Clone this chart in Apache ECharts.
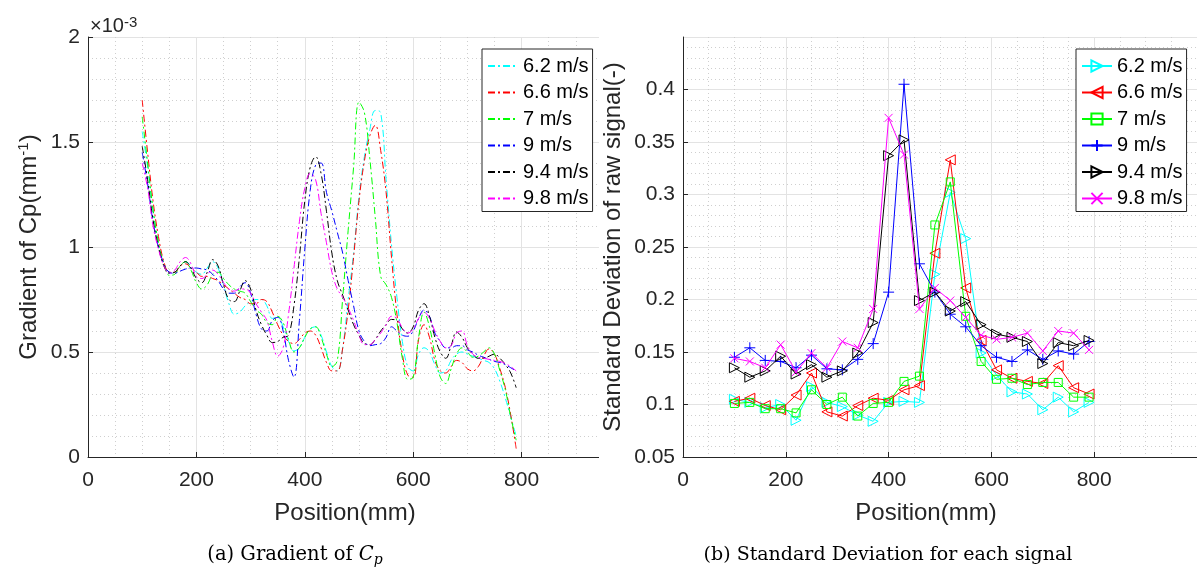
<!DOCTYPE html>
<html>
<head>
<meta charset="UTF-8">
<title>Gradient of Cp / Standard deviation</title>
<script src="https://cdn.jsdelivr.net/npm/echarts@6/dist/echarts.min.js"></script>
<style>
  html, body { margin: 0; padding: 0; background: #fff; }
  #chart { width: 1197px; height: 571px; }
</style>
</head>
<body>
<div id="chart"></div>
<script>
// legend names and line colours (shared by both panels)
var speeds = ['6.2 m/s', '6.6 m/s', '7 m/s', '9 m/s', '9.4 m/s', '9.8 m/s'];
var colors = ['#00ffff', '#ff0000', '#00ff00', '#0000ff', '#000000', '#ff00ff'];

// (a) gradient of Cp, values in 1e-3 mm^-1
var posA = [100, 110, 120, 130, 140, 150, 160, 170, 180, 190,
            200, 210, 220, 230, 240, 250, 260, 270, 280, 290,
            300, 310, 320, 330, 340, 350, 360, 370, 380, 390,
            400, 410, 420, 430, 440, 450, 460, 470, 480, 490,
            500, 510, 520, 530, 540, 550, 560, 570, 580, 590,
            600, 610, 620, 630, 640, 650, 660, 670, 680, 690,
            700, 710, 720, 730, 740, 750, 760, 770, 780, 790];

var grad62 = [1.55, 1.38, 1.17, 1.02, 0.92, 0.875, 0.88, 0.91, 0.93, 0.91,
              0.88, 0.87, 0.90, 0.93, 0.90, 0.82, 0.73, 0.68, 0.69, 0.72,
              0.74, 0.75, 0.75, 0.72, 0.66, 0.665, 0.62, 0.55, 0.505, 0.52,
              0.57, 0.61, 0.62, 0.58, 0.50, 0.43, 0.41, 0.52, 0.75, 0.97,
              1.24, 1.43, 1.56, 1.65, 1.64, 1.32, 1.01, 0.76, 0.55, 0.43,
              0.41, 0.49, 0.52, 0.50, 0.44, 0.40, 0.41, 0.46, 0.49, 0.50,
              0.49, 0.48, 0.47, 0.46, 0.45, 0.42, 0.36, 0.28, 0.19, 0.10];
var grad66 = [1.70, 1.45, 1.22, 1.05, 0.93, 0.88, 0.88, 0.91, 0.92, 0.90,
              0.88, 0.86, 0.86, 0.85, 0.84, 0.82, 0.80, 0.78, 0.76, 0.75,
              0.73, 0.73, 0.75, 0.74, 0.69, 0.63, 0.58, 0.55, 0.54, 0.56,
              0.59, 0.60, 0.58, 0.52, 0.45, 0.41, 0.41, 0.52, 0.70, 0.95,
              1.22, 1.41, 1.53, 1.58, 1.46, 1.26, 0.95, 0.68, 0.49, 0.39,
              0.38, 0.56, 0.63, 0.57, 0.46, 0.41, 0.40, 0.43, 0.46, 0.45,
              0.42, 0.41, 0.43, 0.48, 0.515, 0.49, 0.42, 0.33, 0.20, 0.04];
var grad7 = [1.62, 1.40, 1.18, 1.02, 0.92, 0.865, 0.87, 0.91, 0.93, 0.89,
             0.83, 0.80, 0.82, 0.87, 0.88, 0.85, 0.82, 0.80, 0.79, 0.78,
             0.74, 0.70, 0.68, 0.64, 0.63, 0.67, 0.64, 0.56, 0.50, 0.52,
             0.57, 0.61, 0.62, 0.57, 0.49, 0.43, 0.46, 0.76, 1.08, 1.38,
             1.69, 1.64, 1.42, 1.14, 0.86, 0.82, 0.76, 0.64, 0.47, 0.37,
             0.38, 0.57, 0.69, 0.62, 0.49, 0.38, 0.35, 0.42, 0.49, 0.52,
             0.50, 0.475, 0.48, 0.50, 0.52, 0.49, 0.41, 0.32, 0.19, 0.08];
var grad9 = [1.45, 1.30, 1.12, 1.00, 0.92, 0.88, 0.875, 0.885, 0.895, 0.90,
             0.90, 0.895, 0.89, 0.87, 0.84, 0.80, 0.78, 0.78, 0.81, 0.83,
             0.78, 0.68, 0.61, 0.60, 0.65, 0.665, 0.60, 0.46, 0.38, 0.65,
             0.99, 1.27, 1.39, 1.40, 1.26, 1.17, 1.07, 0.97, 0.84, 0.72,
             0.60, 0.55, 0.53, 0.535, 0.54, 0.57, 0.62, 0.60, 0.58, 0.575,
             0.60, 0.66, 0.70, 0.67, 0.59, 0.55, 0.52, 0.52, 0.53, 0.53,
             0.51, 0.50, 0.485, 0.475, 0.465, 0.455, 0.45, 0.44, 0.425, 0.41];
var grad94 = [1.48, 1.32, 1.13, 1.00, 0.91, 0.875, 0.88, 0.91, 0.93, 0.90,
              0.85, 0.83, 0.88, 0.94, 0.91, 0.82, 0.75, 0.74, 0.79, 0.84,
              0.80, 0.70, 0.63, 0.58, 0.545, 0.55, 0.57, 0.58, 0.72, 0.95,
              1.22, 1.38, 1.43, 1.35, 1.17, 0.97, 0.84, 0.77, 0.70, 0.63,
              0.58, 0.54, 0.535, 0.56, 0.60, 0.63, 0.655, 0.65, 0.61, 0.59,
              0.62, 0.70, 0.73, 0.67, 0.57, 0.50, 0.47, 0.53, 0.595, 0.57,
              0.52, 0.49, 0.47, 0.47, 0.48, 0.49, 0.47, 0.44, 0.40, 0.33];
var grad98 = [1.40, 1.28, 1.10, 0.99, 0.91, 0.875, 0.89, 0.93, 0.95, 0.92,
              0.86, 0.85, 0.87, 0.89, 0.87, 0.83, 0.80, 0.79, 0.80, 0.80,
              0.78, 0.73, 0.69, 0.65, 0.55, 0.48, 0.52, 0.68, 0.90, 1.12,
              1.28, 1.35, 1.32, 1.16, 1.02, 0.88, 0.80, 0.76, 0.71, 0.65,
              0.58, 0.535, 0.535, 0.56, 0.59, 0.63, 0.67, 0.66, 0.615, 0.59,
              0.61, 0.66, 0.69, 0.66, 0.60, 0.55, 0.52, 0.53, 0.59, 0.60,
              0.53, 0.49, 0.475, 0.47, 0.465, 0.46, 0.455, 0.445, 0.43, 0.41];

// (b) standard deviation of raw signal
var posB = [100, 130, 160, 190, 220, 250, 280, 310, 340, 370, 400, 430,
            460, 490, 520, 550, 580, 610, 640, 670, 700, 730, 760, 790];
var sd62 = [0.105, 0.102, 0.097, 0.100, 0.085, 0.117, 0.102, 0.098, 0.090, 0.084, 0.102, 0.103,
            0.102, 0.224, 0.302, 0.258, 0.149, 0.128, 0.112, 0.110, 0.095, 0.107, 0.093, 0.102];
var sd66 = [0.103, 0.106, 0.099, 0.095, 0.109, 0.130, 0.093, 0.089, 0.099, 0.106, 0.104, 0.114,
            0.118, 0.244, 0.333, 0.211, 0.161, 0.133, 0.125, 0.122, 0.120, 0.137, 0.116, 0.110];
var sd7 = [0.101, 0.102, 0.096, 0.096, 0.092, 0.114, 0.100, 0.107, 0.089, 0.101, 0.102, 0.122,
           0.127, 0.271, 0.312, 0.184, 0.141, 0.124, 0.125, 0.119, 0.121, 0.121, 0.107, 0.107];
var sd9 = [0.145, 0.154, 0.142, 0.141, 0.135, 0.147, 0.134, 0.133, 0.143, 0.158, 0.207, 0.405,
           0.234, 0.207, 0.186, 0.174, 0.156, 0.145, 0.141, 0.152, 0.143, 0.151, 0.148, 0.160];
var sd94 = [0.135, 0.126, 0.132, 0.146, 0.129, 0.138, 0.126, 0.132, 0.149, 0.178, 0.337, 0.352,
            0.199, 0.207, 0.189, 0.198, 0.176, 0.167, 0.164, 0.160, 0.139, 0.159, 0.156, 0.161];
var sd98 = [0.144, 0.141, 0.135, 0.157, 0.131, 0.149, 0.135, 0.160, 0.154, 0.191, 0.373, 0.338,
            0.191, 0.211, 0.199, 0.183, 0.166, 0.162, 0.164, 0.168, 0.151, 0.170, 0.168, 0.152];

// markers: right triangle, left triangle, square, plus, right triangle, cross
var markers = [
    'path://M0,0L10,5L0,10Z',
    'path://M10,0L0,5L10,10Z',
    'path://M0,0L10,0L10,10L0,10Z',
    'path://M5,0L5,10M0,5L10,5',
    'path://M0,0L10,5L0,10Z',
    'path://M0,0L10,10M10,0L0,10'
];
var markerSizes = [10, 10, 8, 11, 10, 8];

var FONT = '"Liberation Sans", Arial, sans-serif';
var SERIF = '"DejaVu Serif", serif';
var INK = '#262626';

var chart = echarts.init(document.getElementById('chart'));

function xAxisFor(grid) {
    return {
        gridIndex: grid, type: 'value', min: 0, max: 1000, interval: 200,
        name: 'Position(mm)', nameLocation: 'middle', nameGap: 44,
        nameTextStyle: { fontFamily: FONT, fontSize: 24, color: INK, padding: [0, 28, 0, 0] },
        axisLine: { show: true, onZero: false, lineStyle: { color: INK, width: 1 } },
        axisTick: { show: true, inside: true, length: 5, lineStyle: { color: INK } },
        axisLabel: { fontFamily: FONT, fontSize: 21, color: INK, margin: 13, showMaxLabel: false },
        splitLine: { show: true, lineStyle: { color: '#e3e3e3', width: 1 } },
        minorTick: { show: false, splitNumber: 4 },
        minorSplitLine: { show: true, lineStyle: { color: '#cfcfcf', width: 1, type: [1, 3] } }
    };
}

function yAxisFor(grid, min, max, step, minorN, showMax) {
    return {
        gridIndex: grid, type: 'value', min: min, max: max, interval: step,
        axisLine: { show: true, onZero: false, lineStyle: { color: INK, width: 1 } },
        axisTick: { show: true, inside: true, length: 5, lineStyle: { color: INK } },
        axisLabel: { fontFamily: FONT, fontSize: 21, color: INK, margin: 8, showMaxLabel: showMax },
        splitLine: { show: true, lineStyle: { color: '#e3e3e3', width: 1 } },
        minorTick: { show: false, splitNumber: minorN },
        minorSplitLine: { show: true, lineStyle: { color: '#cfcfcf', width: 1, type: [1, 3] } }
    };
}

var yLeft = yAxisFor(0, 0, 2, 0.5, 5, true);
yLeft.name = 'Gradient of Cp(mm{sup|-1})';
yLeft.nameLocation = 'middle';
yLeft.nameGap = 46;
yLeft.nameRotate = 90;
yLeft.nameTextStyle = {
    fontFamily: FONT, fontSize: 24, color: INK, lineHeight: 26,
    rich: { sup: { fontFamily: FONT, fontSize: 15, color: INK, lineHeight: 12, verticalAlign: 'top' } }
};
var yRight = yAxisFor(1, 0.05, 0.45, 0.05, 5, false);

var series = [];
[grad62, grad66, grad7, grad9, grad94, grad98].forEach(function (vals, i) {
    series.push({
        name: speeds[i], type: 'line', xAxisIndex: 0, yAxisIndex: 0,
        data: posA.map(function (x, k) { return [x, vals[k]]; }),
        smooth: 0.4, symbol: 'none', showSymbol: false,
        lineStyle: { color: colors[i], width: 1, type: [7, 3, 2, 3] },
        itemStyle: { color: colors[i] },
        z: 3 + i
    });
});
// trailing space keeps the two legends apart, trimmed by the formatter
[sd62, sd66, sd7, sd9, sd94, sd98].forEach(function (vals, i) {
    series.push({
        name: speeds[i] + ' ', type: 'line', xAxisIndex: 1, yAxisIndex: 1,
        data: posB.map(function (x, k) { return [x, vals[k]]; }),
        symbol: markers[i], symbolSize: markerSizes[i], showSymbol: true,
        lineStyle: { color: colors[i], width: 1 },
        itemStyle: { color: 'rgba(0,0,0,0)', borderColor: colors[i], borderWidth: 1 },
        z: 3 + i
    });
});

function legendAt(left, names) {
    return {
        left: left, top: 49, orient: 'vertical',
        data: names,
        itemWidth: 30, itemHeight: 14, itemGap: 6.5,
        padding: [7, 4, 3, 5],
        backgroundColor: '#fff', borderColor: INK, borderWidth: 1, borderRadius: 0,
        textStyle: { fontFamily: FONT, fontSize: 20, color: '#000', lineHeight: 20 },
        formatter: function (n) { return n.trim(); },
        selectedMode: false
    };
}

var legendA = legendAt(482, speeds);
legendA.itemStyle = { opacity: 0 };   // dash-dot line only, no dot
var legendB = legendAt(1076, speeds.map(function (s) { return s + ' '; }));

var option = {
    animation: false,
    backgroundColor: '#fff',
    grid: [
        { left: 88, top: 37, width: 542, height: 420 },
        { left: 683, top: 37, width: 542, height: 420 }
    ],
    xAxis: [xAxisFor(0), xAxisFor(1)],
    yAxis: [yLeft, yRight],
    legend: [legendA, legendB],
    series: series,
    graphic: [
        // hides the part of panel (a) that runs under panel (b)'s labels
        { type: 'rect', left: 599, top: 0, z: 100, shape: { width: 32, height: 475 }, style: { fill: '#fff' } },
        {
            type: 'text', x: 613, y: 247, rotation: Math.PI / 2, z: 101,
            style: { text: 'Standard Deviation of raw signal(-)', font: '24px ' + FONT, fill: INK,
                     textAlign: 'center', textVerticalAlign: 'middle' }
        },
        {
            type: 'text', x: 90, y: 26, z: 101,
            style: {
                text: '×10{sup|-3}', font: '20px ' + FONT, fill: INK, lineHeight: 22,
                textAlign: 'left', textVerticalAlign: 'middle',
                rich: { sup: { fontFamily: FONT, fontSize: 15, fill: INK, lineHeight: 10, verticalAlign: 'top' } }
            }
        },
        {
            type: 'text', x: 295, y: 555, z: 101,
            style: {
                text: '(a) Gradient of {it|C}{sub|p}', fontFamily: SERIF, fontSize: 19.5,
                fill: '#000', lineHeight: 24, textAlign: 'center', textVerticalAlign: 'middle',
                rich: {
                    it: { fontFamily: SERIF, fontSize: 19.5, fontStyle: 'italic', fill: '#000' },
                    sub: { fontFamily: SERIF, fontSize: 14, fontStyle: 'italic', fill: '#000',
                           lineHeight: 9, verticalAlign: 'bottom' }
                }
            }
        },
        {
            type: 'text', x: 888, y: 555, z: 101,
            style: {
                text: '(b) Standard Deviation for each signal', fontFamily: SERIF, fontSize: 19,
                fill: '#000', textAlign: 'center', textVerticalAlign: 'middle'
            }
        }
    ]
};

chart.setOption(option);
</script>
</body>
</html>
